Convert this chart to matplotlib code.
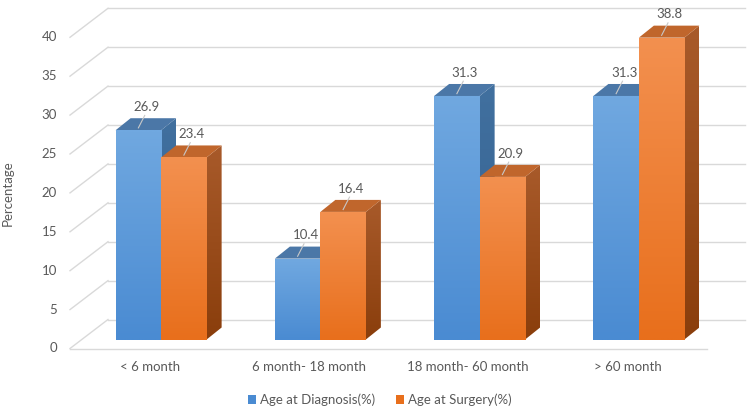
import numpy as np
import matplotlib.pyplot as plt
from matplotlib.patches import Polygon, Rectangle, Patch

# data
categories = ['< 6 month', '6 month- 18 month', '18 month- 60 month', '> 60 month']
diagnosis = [26.9, 10.4, 31.3, 31.3]
surgery = [23.4, 16.4, 20.9, 38.8]
yticks = [0, 5, 10, 15, 20, 25, 30, 35, 40]
series_names = ['Age at Diagnosis(%)', 'Age at Surgery(%)']

plt.rcParams['font.family'] = ['Lato', 'DejaVu Sans']
text_col = '#595959'
grid_col = '#d9d9d9'

# pixel scale of the fake 3d view
PX_X = 159.25   # px per category
PX_Y = 7.78     # px per percent
DX, DY = 38 / PX_X, 29 / PX_Y        # floor / wall depth
OX, OY = 11.5 / PX_X, 9 / PX_Y       # bar front offset from front plane
BDX, BDY = 15 / PX_X, 12 / PX_Y      # bar depth
W = 45.5 / PX_X

fig = plt.figure(figsize=(7.5, 4.18), dpi=100)
ax = fig.add_axes([0, 0, 1, 1])
x_left = -0.5 - 70 / PX_X
y_bot = -69.5 / PX_Y
ax.set_xlim(x_left, x_left + 750 / PX_X)
ax.set_ylim(y_bot, y_bot + 418 / PX_Y)
ax.axis('off')

n = len(categories)
xl, xr = -0.5, n - 0.5

# back wall grid and left wall diagonals
for v in yticks:
    ax.plot([xl + DX, xr + DX], [v + DY, v + DY], color=grid_col, lw=1, zorder=1)
    ax.plot([xl, xl + DX], [v, v + DY], color=grid_col, lw=1, zorder=1)
    ax.text(xl - 13 / PX_X, v, str(v), ha='right', va='center', fontsize=9.5, color=text_col)
ax.plot([xl, xr], [0, 0], color=grid_col, lw=1, zorder=1)


def vgrad(top, bottom, nsteps=64):
    c1 = np.array(plt.matplotlib.colors.to_rgb(top))
    c2 = np.array(plt.matplotlib.colors.to_rgb(bottom))
    t = np.linspace(0, 1, nsteps)[:, None]
    return (c1 * (1 - t) + c2 * t)[:, None, :]


def bar3d(x0, h, front, side, top, z):
    y0 = OY
    # side face
    side_pts = [(x0 + W, y0), (x0 + W + BDX, y0 + BDY), (x0 + W + BDX, y0 + h + BDY), (x0 + W, y0 + h)]
    poly = Polygon(side_pts, closed=True, fc='none', ec='none')
    ax.add_patch(poly)
    im = ax.imshow(vgrad(*side), extent=[x0 + W, x0 + W + BDX, y0, y0 + h + BDY],
                   aspect='auto', interpolation='bilinear', zorder=z)
    im.set_clip_path(poly)
    # top face
    top_pts = [(x0, y0 + h), (x0 + BDX, y0 + h + BDY), (x0 + W + BDX, y0 + h + BDY), (x0 + W, y0 + h)]
    ax.add_patch(Polygon(top_pts, closed=True, fc=top, ec='none', zorder=z))
    # front face
    ax.imshow(vgrad(*front), extent=[x0, x0 + W, y0, y0 + h],
              aspect='auto', interpolation='bilinear', zorder=z + 0.5)


blue_front = ('#70a8e0', '#4a8bd2')
blue_side = ('#41709f', '#33608f')
blue_top = '#4b77a7'
orange_front = ('#f3904f', '#e86f1c')
orange_side = ('#a85a2a', '#8a3e0c')
orange_top = '#c0662c'

for i in range(n):
    bar3d(i - W + OX, diagnosis[i], blue_front, blue_side, blue_top, 2 + i)
    bar3d(i + OX, surgery[i], orange_front, orange_side, orange_top, 2.7 + i)

# data labels with leader lines
for i in range(n):
    for x0, v in [(i - W + OX, diagnosis[i]), (i + OX, surgery[i])]:
        cx = x0 + W / 2
        ax.plot([cx, cx + 0.04], [OY + v + 0.3, OY + v + 1.9], color='#c8c8c8', lw=0.8, zorder=10)
        ax.text(cx + 0.05, OY + v + 3.0, f'{v:.1f}', ha='center', va='center',
                fontsize=9.5, color=text_col, zorder=11)

for i, c in enumerate(categories):
    ax.text(i, -2.4, c, ha='center', va='center', fontsize=9.5, color=text_col)

ax.text(x_left + 8 / PX_X, 20, 'Percentage', rotation=90, ha='center', va='center',
        fontsize=9.5, color=text_col)

handles = [Patch(fc=blue_front[1], ec='none'), Patch(fc=orange_front[1], ec='none')]
fig.legend(handles, series_names, loc='center', bbox_to_anchor=(0.506, 0.043), ncol=2,
           frameon=False, handlelength=0.6, handleheight=0.6, handletextpad=0.3,
           columnspacing=1.6, fontsize=9.5, labelcolor=text_col)

fig.savefig('out.png', dpi=100)
